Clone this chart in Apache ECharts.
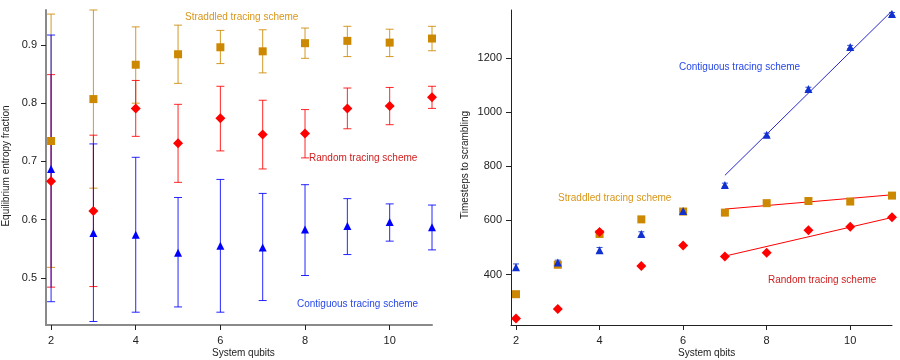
<!DOCTYPE html>
<html><head><meta charset="utf-8">
<script src="https://cdn.jsdelivr.net/npm/echarts@6/dist/echarts.min.js"></script>
<style>html,body{margin:0;padding:0;background:#fff}#c{width:900px;height:360px}</style>
</head><body><div id="c"></div>
<script>
// ---- Left panel: equilibrium entropy fraction ----
const qubits = [2,3,4,5,6,7,8,9,10,11];
const straddledMean = [0.735,0.807,0.866,0.884,0.896,0.889,0.903,0.907,0.904,0.911];
const straddledHi   = [0.953,0.960,0.931,0.934,0.925,0.926,0.929,0.932,0.927,0.932];
const straddledLo   = [0.518,0.654,0.800,0.834,0.868,0.852,0.877,0.880,0.880,0.890];
const randomMean = [0.666,0.615,0.791,0.731,0.774,0.746,0.748,0.791,0.795,0.810];
const randomHi   = [0.849,0.745,0.839,0.798,0.829,0.805,0.789,0.826,0.827,0.829];
const randomLo   = [0.484,0.485,0.743,0.664,0.718,0.687,0.706,0.756,0.763,0.791];
const contigMean = [0.687,0.577,0.574,0.543,0.555,0.552,0.583,0.589,0.596,0.587];
const contigHi   = [0.917,0.730,0.707,0.638,0.669,0.645,0.660,0.636,0.627,0.625];
const contigLo   = [0.459,0.425,0.441,0.450,0.441,0.461,0.504,0.540,0.563,0.548];

// ---- Right panel: timesteps to scrambling ----
const contigSteps    = [427,444,490,550,635,731,917,1087,1242,1364];
const contigStepsErr = [12,9,10,8,6,7,6,6,6,6];
const straddledSteps = [327,436,550,604,633,629,664,672,670,692];
const randomSteps    = [237,272,557,431,507,467,480,564,577,612];
const fitX = [7,11];
const contigFit    = [767,1376];
const straddledFit = [642,695];
const randomFit    = [468,611];

// tick labels
const xTicks = [2,4,6,8,10];
const leftYTicks = [0.5,0.6,0.7,0.8,0.9];
const rightYTicks = [400,600,800,1000,1200];

const ORANGE = '#CC8800', RED = '#FF0000', BLUE = '#0000FF', DBLUE = '#1030D0';
const FONT = 'Liberation Sans, Arial, sans-serif';

function pts(xs, ys){ return xs.map((x,i)=>[x, ys[i]]); }
function bars(xs, hi, lo){ return xs.map((x,i)=>[x, hi[i], lo[i]]); }
function barsPM(xs, m, e){ return xs.map((x,i)=>[x, m[i]+e[i], m[i]-e[i]]); }

function errSeries(data, color, xi, yi, cap){
  return {
    type:'custom', xAxisIndex:xi, yAxisIndex:yi, data:data, z:2,
    encode:{x:0, y:[1,2]},
    renderItem:function(params, api){
      const x = api.value(0), hi = api.value(1), lo = api.value(2);
      const t = api.coord([x, hi]), b = api.coord([x, lo]);
      const st = {stroke:color, lineWidth:1, opacity:0.85};
      return {type:'group', children:[
        {type:'line', shape:{x1:t[0], y1:t[1], x2:b[0], y2:b[1]}, style:st},
        {type:'line', shape:{x1:t[0]-cap, y1:t[1], x2:t[0]+cap, y2:t[1]}, style:st},
        {type:'line', shape:{x1:b[0]-cap, y1:b[1], x2:b[0]+cap, y2:b[1]}, style:st}
      ]};
    }
  };
}
function scat(data, color, symbol, size, xi, yi){
  return {type:'scatter', xAxisIndex:xi, yAxisIndex:yi, data:data, symbol:symbol,
    symbolSize:size, itemStyle:{color:color, opacity:1}, z:3, silent:true};
}
function fit(ys, color, xi, yi){
  return {type:'line', xAxisIndex:xi, yAxisIndex:yi, data:pts(fitX, ys), symbol:'none',
    lineStyle:{color:color, width:1}, z:2, silent:true};
}

function lab(ticks, margin){
  return {customValues:ticks, color:'#222', fontSize:11, fontFamily:FONT, margin:margin,
    formatter:function(v){ return String(v); }};
}
function xAxis(gi, lineColor, lw){
  return {type:'value', gridIndex:gi, min:1.88, max:11, splitLine:{show:false},
    axisLine:{show:true, onZero:false, lineStyle:{color:lineColor, width:lw}},
    axisTick:{show:true, length:5, customValues:xTicks, lineStyle:{color:'#222'}},
    axisLabel:lab(xTicks, 10)};
}
function yAxis(gi, min, max, ticks, lineColor, lw){
  return {type:'value', gridIndex:gi, min:min, max:max, splitLine:{show:false},
    axisLine:{show:true, onZero:false, lineStyle:{color:lineColor, width:lw}},
    axisTick:{show:true, length:5, customValues:ticks, lineStyle:{color:'#222'}},
    axisLabel:lab(ticks, 9)};
}

const chart = echarts.init(document.getElementById('c'), null, {renderer:'canvas'});
chart.setOption({
  animation:false,
  backgroundColor:'#fff',
  grid:[
    {left:46, right:468, top:10, bottom:35},
    {left:511, right:8, top:10, bottom:35}
  ],
  xAxis:[ xAxis(0, '#8a8a8a', 2), xAxis(1, '#222', 1) ],
  yAxis:[ yAxis(0, 0.419, 0.96, leftYTicks, '#8a8a8a', 2),
          yAxis(1, 213, 1379, rightYTicks, '#222', 1) ],
  series:[
    errSeries(bars(qubits, straddledHi, straddledLo), ORANGE, 0, 0, 4),
    errSeries(bars(qubits, randomHi, randomLo), RED, 0, 0, 4),
    errSeries(bars(qubits, contigHi, contigLo), BLUE, 0, 0, 4),
    scat(pts(qubits, straddledMean), ORANGE, 'rect', 8, 0, 0),
    scat(pts(qubits, randomMean), RED, 'diamond', [10,10], 0, 0),
    scat(pts(qubits, contigMean), BLUE, 'triangle', [8,8], 0, 0),

    errSeries(barsPM(qubits, contigSteps, contigStepsErr), DBLUE, 1, 1, 3),
    fit(contigFit, '#2828C8', 1, 1),
    fit(straddledFit, RED, 1, 1),
    fit(randomFit, RED, 1, 1),
    scat(pts(qubits, straddledSteps), ORANGE, 'rect', 8, 1, 1),
    scat(pts(qubits, randomSteps), RED, 'diamond', [10,10], 1, 1),
    scat(pts(qubits, contigSteps), DBLUE, 'triangle', [8,8], 1, 1)
  ],
  graphic:[
    {type:'text', left:185, top:12, style:{text:'Straddled tracing scheme', fill:'#D9961A', font:'10px '+FONT}},
    {type:'text', left:309, top:153, style:{text:'Random tracing scheme', fill:'#D02020', font:'10px '+FONT}},
    {type:'text', left:297, top:299, style:{text:'Contiguous tracing scheme', fill:'#2848E8', font:'10px '+FONT}},
    {type:'text', left:679, top:62, style:{text:'Contiguous tracing scheme', fill:'#2848E8', font:'10px '+FONT}},
    {type:'text', left:558, top:193, style:{text:'Straddled tracing scheme', fill:'#D9961A', font:'10px '+FONT}},
    {type:'text', left:768, top:275, style:{text:'Random tracing scheme', fill:'#D02020', font:'10px '+FONT}},
    {type:'text', x:212, y:348, style:{text:'System qubits', fill:'#222', font:'10px '+FONT}},
    {type:'text', x:678, y:348, style:{text:'System qbits', fill:'#222', font:'10px '+FONT}},
    {type:'text', x:1, y:166, rotation:Math.PI/2, style:{text:'Equilibrium entropy fraction', fill:'#222', font:'10px '+FONT, align:'center', verticalAlign:'top'}},
    {type:'text', x:460, y:165, rotation:Math.PI/2, style:{text:'Timesteps to scrambling', fill:'#222', font:'10px '+FONT, align:'center', verticalAlign:'top'}}
  ]
});
</script></body></html>
